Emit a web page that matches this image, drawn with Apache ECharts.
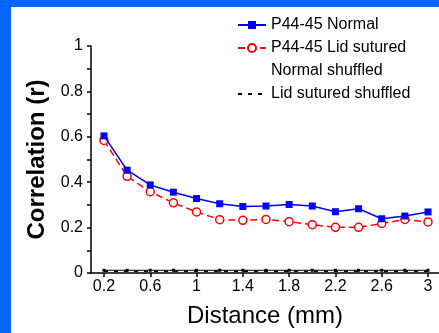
<!DOCTYPE html>
<html>
<head>
<meta charset="utf-8">
<script src="https://cdn.jsdelivr.net/npm/echarts@6/dist/echarts.min.js"></script>
<style>
html,body{margin:0;padding:0;background:#0066ff;width:439px;height:333px;overflow:hidden;}
#c{position:absolute;left:11px;top:7px;width:428px;height:326px;background:#fff;}
</style>
</head>
<body>
<div id="c"></div>
<script>
const distances = [0.2,0.4,0.6,0.8,1.0,1.2,1.4,1.6,1.8,2.0,2.2,2.4,2.6,2.8,3.0];
const normal = [0.604,0.453,0.388,0.356,0.328,0.305,0.293,0.295,0.302,0.295,0.270,0.283,0.239,0.251,0.269];
const lidSutured = [0.584,0.426,0.358,0.309,0.269,0.235,0.232,0.236,0.226,0.213,0.201,0.201,0.218,0.236,0.225];
const normalShuffled = [0.012,0.012,0.012,0.012,0.012,0.012,0.012,0.012,0.012,0.012,0.012,0.012,0.012,0.012,0.012];
const lidShuffled = [0.008,0.008,0.008,0.008,0.008,0.008,0.008,0.008,0.008,0.008,0.008,0.008,0.008,0.008,0.008];
const xTickValues = [0.2,0.6,1.0,1.4,1.8,2.2,2.6,3.0];
const seriesNames = ['P44-45 Normal','P44-45 Lid sutured','Normal shuffled','Lid sutured shuffled'];

const pairs = arr => distances.map((d,i)=>[d,arr[i]]);
const font = '"Liberation Sans", Arial, Helvetica, sans-serif';

const chart = echarts.init(document.getElementById('c'), null, {renderer:'canvas'});
chart.setOption({
  animation:false,
  backgroundColor:'#fff',
  textStyle:{fontFamily:font,color:'#000'},
  grid:{left:80,top:39,right:0,bottom:59,containLabel:false},
  legend:{
    orient:'vertical',left:221,top:5,itemWidth:28,itemHeight:10,itemGap:7,
    textStyle:{fontSize:16,color:'#000',fontFamily:font},
    data:[
      {name:seriesNames[0]},
      {name:seriesNames[1]},
      {name:seriesNames[2],itemStyle:{opacity:0},lineStyle:{opacity:0}},
      {name:seriesNames[3],itemStyle:{opacity:0}}
    ]
  },
  xAxis:{
    type:'value',min:0.088,max:3.095,
    name:'Distance (mm)',nameLocation:'middle',nameGap:31,
    nameTextStyle:{fontSize:24,color:'#000',fontFamily:font},
    axisLine:{lineStyle:{color:'#000',width:1.5}},
    axisTick:{show:true,length:4,customValues:xTickValues,lineStyle:{color:'#000',width:1.5}},
    axisLabel:{customValues:xTickValues,fontSize:16,color:'#000',margin:6,fontFamily:font,
      formatter:v=>String(Math.round(v*10)/10)},
    splitLine:{show:false}
  },
  yAxis:{
    type:'value',min:0,max:1,interval:0.2,
    name:'Correlation (r)',nameLocation:'middle',nameGap:40,
    nameTextStyle:{fontSize:24,fontWeight:'bold',color:'#000',fontFamily:font},
    axisLine:{show:true,lineStyle:{color:'#000',width:1.5}},
    axisTick:{show:true,length:4,lineStyle:{color:'#000',width:1.5}},
    minorTick:{show:true,splitNumber:2,length:4,lineStyle:{color:'#000',width:1.5}},
    axisLabel:{fontSize:16,color:'#000',margin:8,fontFamily:font,
      formatter:v=>String(Math.round(v*10)/10)},
    splitLine:{show:false}
  },
  series:[
    {name:seriesNames[0],type:'line',data:pairs(normal),symbol:'rect',symbolSize:7,
      itemStyle:{color:'#0000ff'},lineStyle:{color:'#0000ff',width:1.5},z:3},
    {name:seriesNames[1],type:'line',data:pairs(lidSutured),symbol:'circle',symbolSize:8,
      itemStyle:{color:'#fff',borderColor:'#ff0000',borderWidth:1.5},
      lineStyle:{color:'#ff0000',width:1.5,type:[7,4]},z:2},
    {name:seriesNames[2],type:'line',data:pairs(normalShuffled),symbol:'rect',symbolSize:3,
      itemStyle:{color:'#000'},lineStyle:{color:'#000',width:1},z:1},
    {name:seriesNames[3],type:'line',data:pairs(lidShuffled),symbol:'none',
      itemStyle:{color:'#000'},lineStyle:{color:'#000',width:1.5,type:[4,6]},z:1}
  ]
});
</script>
</body>
</html>
